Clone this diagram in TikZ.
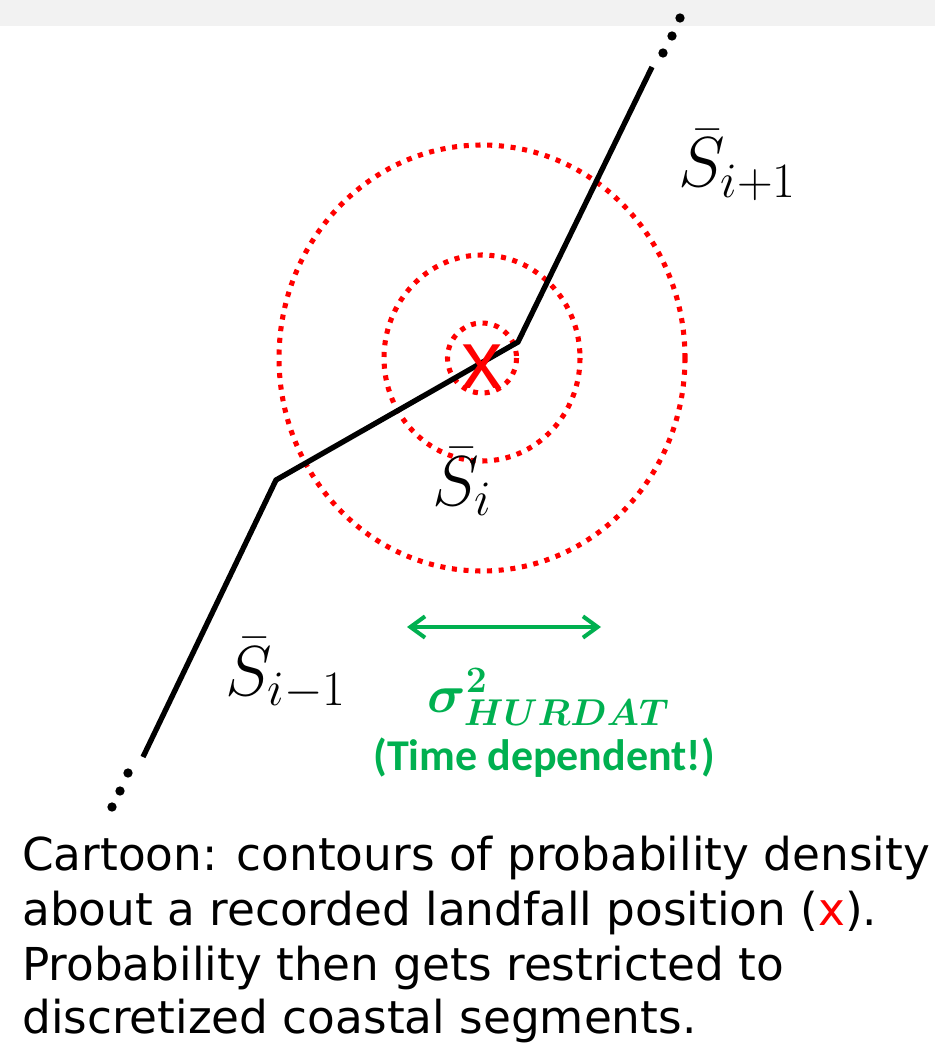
\RequirePackage{fix-cm}
\documentclass[tikz,border=0pt]{standalone}
\usepackage{amsmath}
\usepackage{bm}
\usepackage{fontspec}
\usepackage{tikz}
\usetikzlibrary{arrows.meta,positioning,calc}
\newfontfamily\capfont{DejaVu Sans}
\newfontfamily\notefont{Carlito}
\newfontfamily\markfont{Liberation Sans}
\definecolor{landred}{RGB}{255,0,0}
\definecolor{spreadgreen}{RGB}{0,176,80}
\definecolor{bandgray}{RGB}{242,242,242}

\begin{document}
\begin{tikzpicture}[
  x=0.75pt, y=-0.75pt,
  coast/.style={draw, line width=4pt, black},
  contour/.style={draw=landred, line width=3.8pt, dash pattern=on 3.8pt off 5pt},
  spread/.style={draw=spreadgreen, line width=3pt, {Straight Barb[length=11pt,width=16pt]}-{Straight Barb[length=11pt,width=16pt]}},
  seg/.style={anchor=base west, inner sep=0pt, font=\fontsize{53}{58}\selectfont},
  capline/.style={anchor=base west, inner sep=0pt, font=\capfont\fontsize{34}{41}\selectfont}
]
\useasboundingbox (0,0) rectangle (935,1048);
\fill[bandgray] (0,0) rectangle (935,26);

\coordinate (top) at (652,67);
\coordinate (k1) at (518,342);
\coordinate (k2) at (276,480);
\coordinate (bot) at (143,757);
\coordinate (mid) at (482,358);

\draw[contour] (mid) ellipse [x radius=203, y radius=213];
\draw[contour] (mid) ellipse [x radius=98, y radius=103];
\draw[contour] (mid) ellipse [x radius=34.5, y radius=35];

\draw[coast] (top) -- (k1) -- (k2) -- (bot);

\fill (680,18) circle (3.5pt);
\fill (672,36) circle (3.5pt);
\fill (663,53) circle (3.5pt);
\fill (128,773) circle (3.5pt);
\fill (120,791) circle (3.5pt);
\fill (112,807) circle (3.5pt);

\node[inner sep=0pt, text=landred, font=\markfont\fontsize{62}{62}\selectfont] (x) at (482,367) {x};

\node[seg] (Snext) at (678,187) {$\bar{S}_{i+1}$};
\node[seg] (Scur) at (432,505) {$\bar{S}_{i}$};
\node[seg] (Sprev) at (225,695) {$\bar{S}_{i-1}$};

\coordinate (sl) at (407,627);
\coordinate (sr) at (601,627);
\draw[spread] (sl) -- (sr);

\node[anchor=base west, inner sep=0pt, text=spreadgreen, font=\fontsize{40}{44}\selectfont] (sigma) at (427,712) {$\bm{\sigma}^{\bm{2}}_{\bm{HURDAT}}$};
\node[anchor=base west, inner sep=0pt, text=spreadgreen, font=\notefont\bfseries\fontsize{33}{36}\selectfont] (note) at (373,770) {(Time dependent!)};

\node[capline] (cap1) at (22,870) {Cartoon: contours of probability density};
\node[capline] (cap2) at (22,925) {about a recorded landfall position (\textcolor{landred}{x}).};
\node[capline] (cap3) at (22,980) {Probability then gets restricted to};
\node[capline] (cap4) at (22,1033) {discretized coastal segments.};
\end{tikzpicture}
\end{document}
